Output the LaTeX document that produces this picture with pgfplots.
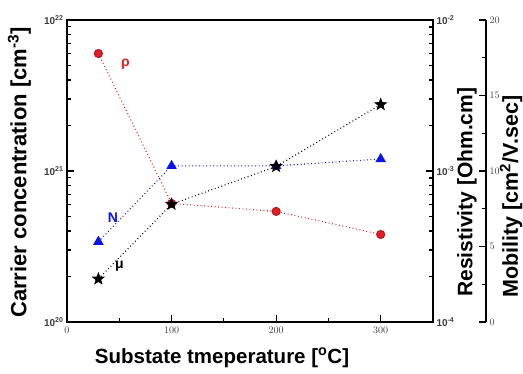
\documentclass[border=0pt]{standalone}
\usepackage{pgfplots}
\pgfplotsset{compat=1.18}
\usepackage{fontspec}
\setmainfont{Liberation Sans}
\definecolor{myred}{RGB}{230,30,35}
\definecolor{myblue}{RGB}{10,20,230}
\definecolor{tickgray}{RGB}{60,60,60}
\pgfdeclareplotmark{fstar}{%
  \pgfpathmoveto{\pgfpointpolar{90}{1\pgfplotmarksize}}%
  \pgfpathlineto{\pgfpointpolar{126}{0.42\pgfplotmarksize}}%
  \pgfpathlineto{\pgfpointpolar{162}{1\pgfplotmarksize}}%
  \pgfpathlineto{\pgfpointpolar{198}{0.42\pgfplotmarksize}}%
  \pgfpathlineto{\pgfpointpolar{234}{1\pgfplotmarksize}}%
  \pgfpathlineto{\pgfpointpolar{270}{0.42\pgfplotmarksize}}%
  \pgfpathlineto{\pgfpointpolar{306}{1\pgfplotmarksize}}%
  \pgfpathlineto{\pgfpointpolar{342}{0.42\pgfplotmarksize}}%
  \pgfpathlineto{\pgfpointpolar{18}{1\pgfplotmarksize}}%
  \pgfpathlineto{\pgfpointpolar{54}{0.42\pgfplotmarksize}}%
  \pgfpathclose\pgfusepathqfillstroke}
\newcommand{\labfont}{\fontsize{20.5}{23}\selectfont\bfseries}
\newcommand{\carfont}{\fontsize{22}{24}\selectfont\bfseries}
\newcommand{\resfont}{\fontsize{21}{23}\selectfont\bfseries}
\newcommand{\mobfont}{\fontsize{21.5}{23}\selectfont\bfseries}
\pgfplotsset{
  common/.style={
    scale only axis, height=302pt,
    tick align=inside,
    axis line style={line width=1.5pt},
    every tick/.style={line width=1.2pt, black},
    major tick length=7pt, minor tick length=4pt,
    tick label style={font=\fontsize{10}{12}\selectfont\bfseries, text=tickgray},
  },
  dotline/.style={line width=1.1pt, dash pattern=on 0.9pt off 2.6pt},
}
\begin{document}
\begin{tikzpicture}
\path[use as bounding box] (-67pt,-52pt) rectangle (456pt,322pt);
% main axis: carrier concentration
\begin{axis}[common, width=366pt,
  xmin=0, xmax=350, ymode=log, ymin=1e20, ymax=1e22,
  xtick={0,100,200,300}, minor xtick={50,150,250},
  xtick pos=lower, ytick pos=left,
  ytick={1e20,1e21,1e22},
  yticklabels={10\textsuperscript{20},10\textsuperscript{21},10\textsuperscript{22}},
  xticklabel style={yshift=-2pt},
  xlabel={Substate tmeperature [\textsuperscript{o}C]},
  ylabel={Carrier concentration [cm\textsuperscript{-3}]},
  every axis x label/.style={at={(axis description cs:0.4235,-0.118)}, anchor=center, font=\labfont},
  every axis y label/.style={at={(axis description cs:-0.13,0.495)}, anchor=center, rotate=90, font=\carfont},
  clip=false]
\addplot[myblue, dotline, mark=triangle*, mark size=5pt,
  mark options={solid, fill=myblue, draw=myblue}]
  coordinates {(30,3.4e20) (100,1.08e21) (200,1.08e21) (300,1.2e21)};
\node[text=myblue, font=\fontsize{14}{16}\selectfont\bfseries] at (axis cs:44,4.9e20) {N};
\node[text=myred, font=\fontsize{14}{16}\selectfont\bfseries] at (axis cs:56,5.1e21) {ρ};
\node[text=black, font=\fontsize{14}{16}\selectfont\bfseries] at (axis cs:50,2.35e20) {μ};
\end{axis}
% resistivity axis
\begin{axis}[common, width=366pt,
  xmin=0, xmax=350, ymode=log, ymin=1e-4, ymax=1e-2,
  axis x line=none, axis y line*=right,
  ytick={1e-4,1e-3,1e-2},
  yticklabels={10\textsuperscript{-4},10\textsuperscript{-3},10\textsuperscript{-2}},
  ylabel={Resistivity [Ohm.cm]},
  every axis y label/.style={at={(axis description cs:1.093,0.43)}, anchor=center, rotate=90, font=\resfont}]
\addplot[myred, dotline, mark=*, mark size=4pt,
  mark options={solid, fill=myred, draw=myred!80!black}]
  coordinates {(30,6.0e-3) (100,6.1e-4) (200,5.4e-4) (300,3.8e-4)};
\end{axis}
% mobility axis
\begin{axis}[common, width=419pt,
  xmin=0, xmax=400.68, ymin=0, ymax=20,
  axis x line=none, axis y line*=right,
  ytick={0,5,10,15,20}, minor ytick={2.5,7.5,12.5,17.5},
  ylabel={Mobility [cm\textsuperscript{2}/V.sec]},
  every axis y label/.style={at={(axis description cs:1.06,0.415)}, anchor=center, rotate=90, font=\mobfont}]
\addplot[black, dotline, mark=fstar, mark size=5.5pt,
  mark options={solid, fill=black, draw=black}]
  coordinates {(30,2.85) (100,7.8) (200,10.3) (300,14.4)};
\end{axis}
\end{tikzpicture}
\end{document}
